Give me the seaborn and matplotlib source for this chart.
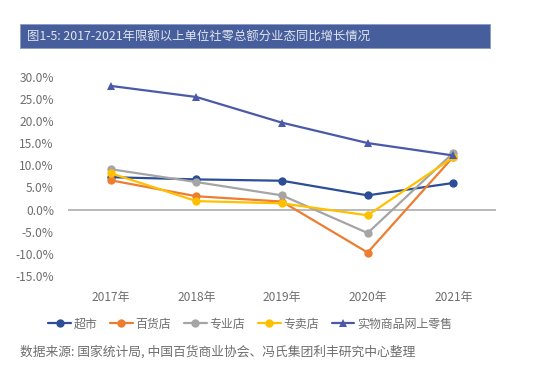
import pandas as pd
import numpy as np
import matplotlib.pyplot as plt
import seaborn as sns
from matplotlib.patches import Rectangle
from matplotlib.ticker import FuncFormatter

years = ['2017年', '2018年', '2019年', '2020年', '2021年']
chaoshi = [7.3, 6.8, 6.5, 3.2, 6.0]
baihuo = [6.6, 3.0, 1.8, -9.7, 11.9]
zhuanye = [9.1, 6.2, 3.2, -5.3, 12.8]
zhuanmai = [8.2, 1.9, 1.4, -1.3, 11.8]
wangshang = [27.9, 25.4, 19.6, 15.0, 12.2]
series_names = ['超市', '百货店', '专业店', '专卖店', '实物商品网上零售']
colors = ['#2b4e96', '#ed7d31', '#a5a5a5', '#ffc000', '#4a5aa8']
markers = ['o', 'o', 'o', 'o', '^']

df = pd.DataFrame({'year': years, '超市': chaoshi, '百货店': baihuo,
                   '专业店': zhuanye, '专卖店': zhuanmai, '实物商品网上零售': wangshang})
long = df.melt(id_vars='year', var_name='type', value_name='value')

sns.set_style('white')
plt.rcParams['font.family'] = ['Noto Sans CJK SC', 'DejaVu Sans']

fig = plt.figure(figsize=(5.47, 3.70), dpi=100)
ax = fig.add_axes([0.124, 0.254, 0.783, 0.539])

sns.lineplot(data=long, x='year', y='value', hue='type', style='type',
             palette=dict(zip(series_names, colors)),
             markers=dict(zip(series_names, markers)), dashes=False,
             markersize=6, linewidth=1.6, markeredgewidth=0, ax=ax, sort=False)

ax.axhline(0, color='#a6a6a6', lw=1.1, zorder=0)
ax.set_xlim(-0.5, 4.5)
ax.set_ylim(-15, 30)
ax.set_yticks(np.arange(-15, 31, 5))
ax.yaxis.set_major_formatter(FuncFormatter(lambda v, p: f'{v:.1f}%'))
for s in ax.spines.values():
    s.set_visible(False)
ax.tick_params(axis='both', length=0, labelsize=8.6, labelcolor='#6e6e6e')
ax.tick_params(axis='x', pad=11)
ax.tick_params(axis='y', pad=10)
ax.set_xlabel('')
ax.set_ylabel('')

handles, labels = ax.get_legend_handles_labels()
ax.legend_.remove()
fig.legend(handles, labels, loc='center', bbox_to_anchor=(0.457, 0.124), ncol=5,
           frameon=False, fontsize=8.6, labelcolor='#6e6e6e', handlelength=1.9,
           handletextpad=0.2, columnspacing=1.1)

# title bar
fig.patches.append(Rectangle((20 / 547, 1 - 48 / 370), 470 / 547, 24 / 370,
                             transform=fig.transFigure, facecolor='#465e9c',
                             edgecolor='#8a9ac4', lw=0.6))
fig.text(27 / 547, 1 - 36 / 370, '图1-5: 2017-2021年限额以上单位社零总额分业态同比增长情况',
         color='#e2e5ee', fontsize=8.9, va='center', ha='left')

fig.text(20 / 547, 1 - 352 / 370, '数据来源: 国家统计局, 中国百货商业协会、冯氏集团利丰研究中心整理',
         color='#6e6e6e', fontsize=9.2, style='italic', va='center', ha='left')

fig.savefig('out.png', dpi=100)
